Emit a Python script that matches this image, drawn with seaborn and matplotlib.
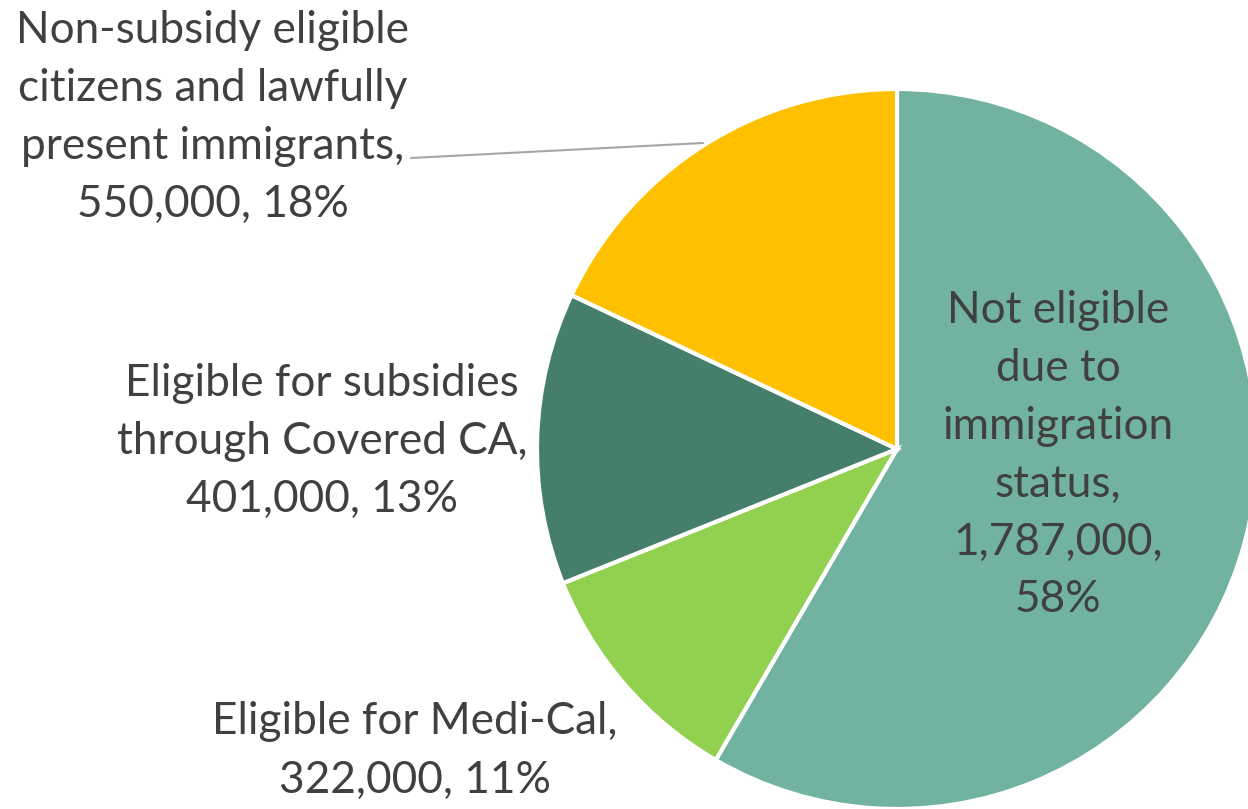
import matplotlib
matplotlib.use("Agg")
import matplotlib.pyplot as plt
import seaborn as sns

# ---- data ----
categories = [
    "Not eligible\ndue to\nimmigration\nstatus,",
    "Eligible for Medi-Cal,",
    "Eligible for subsidies\nthrough Covered CA,",
    "Non-subsidy eligible\ncitizens and lawfully\npresent immigrants,",
]
values = [1787000, 322000, 401000, 550000]
percents = ["58%", "11%", "13%", "18%"]
colors = ["#71B2A0", "#92D050", "#457F6B", "#FFC000"]

sns.set_theme(style="white")
plt.rcParams["font.family"] = ["Lato", "DejaVu Sans"]

W, H = 1248, 809
fig = plt.figure(figsize=(W / 100, H / 100), dpi=100)
ax = fig.add_axes([0, 0, 1, 1])
ax.set_xlim(0, W)
ax.set_ylim(0, H)
ax.set_axis_off()

cx, cy, r = 897, H - 449, 360
ax.pie(values, colors=colors, startangle=90, counterclock=False,
       center=(cx, cy), radius=r, frame=True,
       wedgeprops=dict(edgecolor="white", linewidth=3))
ax.set_xlim(0, W)
ax.set_ylim(0, H)
ax.set_axis_off()
ax.set_aspect("equal")

txtc = "#404040"
fs = 31.8
step = 58

def label(lines, xc, ytop):
    for i, ln in enumerate(lines):
        ax.text(xc, H - (ytop + i * step), ln, ha="center", va="center",
                fontsize=fs, color=txtc)

def fmt(v):
    return f"{v:,}"

# Not eligible (inside)
label(categories[0].split("\n") + [fmt(values[0]) + ",", percents[0]], 1058, 310)
# Medi-Cal
label(categories[1].split("\n") + [f"{fmt(values[1])}, {percents[1]}"], 415, 722)
# Covered CA
label(categories[2].split("\n") + [f"{fmt(values[2])}, {percents[2]}"], 322, 383)
# Non-subsidy
label(categories[3].split("\n") + [f"{fmt(values[3])}, {percents[3]}"], 213, 30)

# leader line
ax.plot([411, 703], [H - 158, H - 143], color="#A6A6A6", linewidth=1.5)

fig.savefig("out.png", dpi=100)
